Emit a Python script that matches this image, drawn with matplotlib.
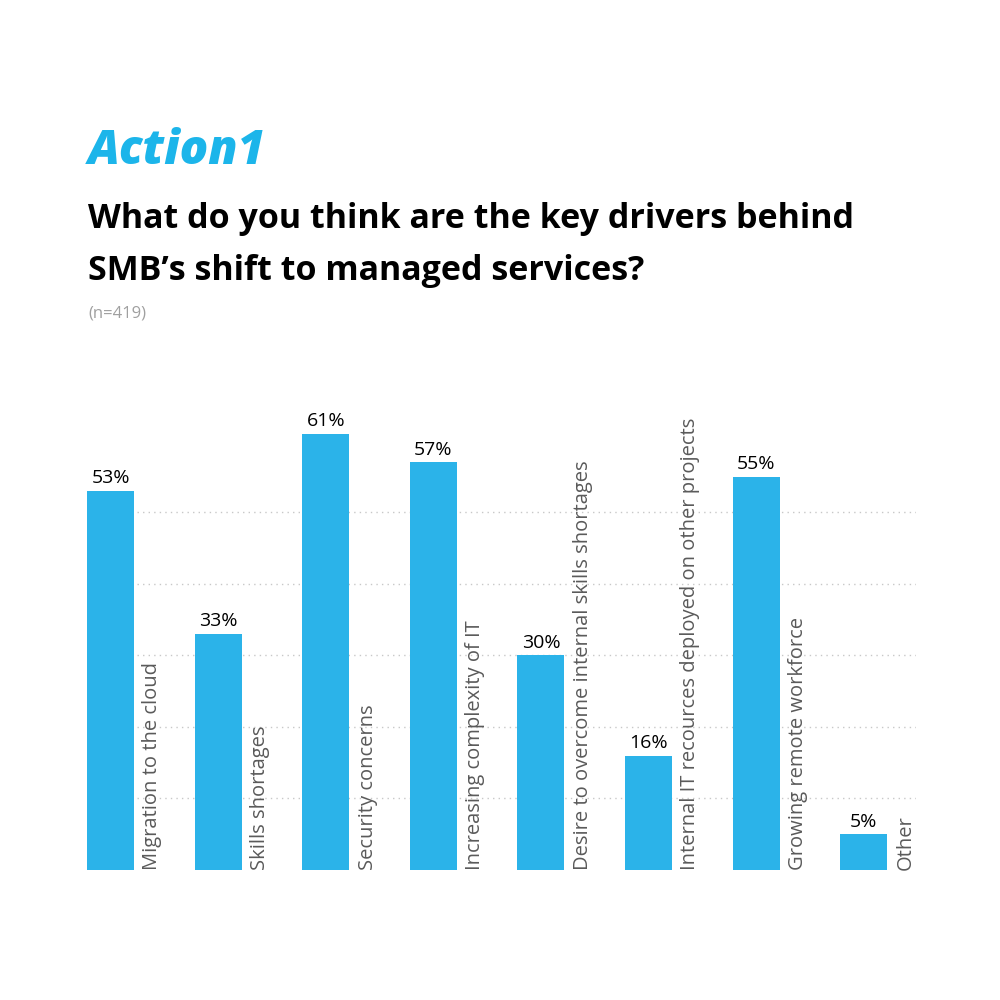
import matplotlib
matplotlib.use("Agg")
import matplotlib.pyplot as plt

# survey answers, share of respondents (%)
categories = ["Migration to the cloud", "Skills shortages", "Security concerns",
              "Increasing complexity of IT", "Desire to overcome internal skills shortages",
              "Internal IT recources deployed on other projects",
              "Growing remote workforce", "Other"]
values = [53, 33, 61, 57, 30, 16, 55, 5]
grid_ticks = [10, 20, 30, 40, 50]

BLUE = "#2bb3e9"
plt.rcParams['font.family'] = ['Open Sans', 'DejaVu Sans']

fig = plt.figure(figsize=(10, 10), dpi=100)
fig.patch.set_facecolor("white")

# header
fig.text(0.088, 0.836, "Action1", fontsize=34, fontweight="heavy", fontstyle="italic",
         color="#1cb5ea", ha="left", va="baseline")
fig.text(0.088, 0.772, "What do you think are the key drivers behind",
         fontsize=24.5, fontweight="bold", color="black", ha="left", va="baseline")
fig.text(0.088, 0.720, "SMB\u2019s shift to managed services?",
         fontsize=24.5, fontweight="bold", color="black", ha="left", va="baseline")
fig.text(0.088, 0.683, "(n=419)", fontsize=12, color="#a0a0a0", ha="left", va="baseline")

# bars
ax = fig.add_axes([0.087, 0.13, 0.829, 0.47])
x = list(range(len(categories)))
w = 0.437
ax.bar(x, values, width=w, color=BLUE, zorder=3)

for xi, v, cat in zip(x, values, categories):
    ax.text(xi, v + 0.5, f"{v}%", ha="center", va="bottom", fontsize=14, color="black")
    ax.text(xi + w / 2 + 0.17, 0, cat, rotation=90, ha="center", va="bottom",
            fontsize=14.5, color="#5a5a5a", zorder=4)

ax.set_xlim(-w / 2, 7.486)
ax.set_ylim(0, 65.7)
ax.set_yticks(grid_ticks)
ax.set_xticks([])
ax.tick_params(left=False, labelleft=False)
ax.yaxis.grid(True, color="#c8c8c8", linestyle=(0, (1, 3)), linewidth=1, zorder=0)
for s in ax.spines.values():
    s.set_visible(False)

fig.savefig("out.png", dpi=100, facecolor="white")
